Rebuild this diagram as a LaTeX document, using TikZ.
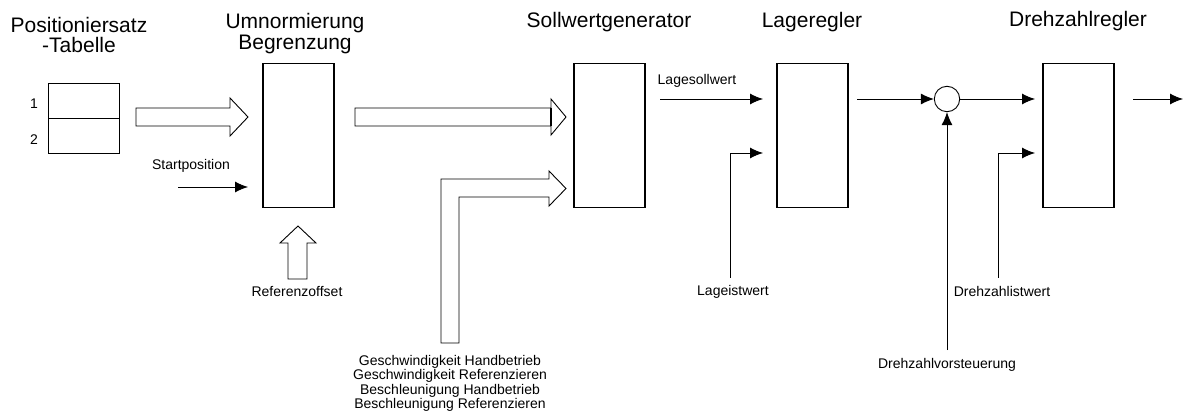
\documentclass[tikz,border=0pt]{standalone}
\usepackage{fontspec}
\setmainfont{Liberation Sans}
\usetikzlibrary{arrows.meta}
\begin{document}
\begin{tikzpicture}[x=1pt,y=-1pt,
  blk/.style={draw, line width=1.5pt, minimum width=71pt, minimum height=144pt, inner sep=0pt, anchor=north west},
  ttl/.style={font=\fontsize{21}{20.5}\selectfont, inner sep=0pt, align=center},
  lbl/.style={font=\fontsize{14}{14.4}\selectfont, inner sep=0pt, align=center},
  sig/.style={line width=0.9pt, -{Latex[length=13pt,width=11pt]}},
  hollow/.style={draw, line width=0.9pt, fill=white, line join=miter}]
\useasboundingbox (0,0) rectangle (1184,414);

% titles
\node[ttl, anchor=north] (t1) at (79,16.7) {Positioniersatz\\-Tabelle};
\node[ttl, anchor=north] (t2) at (295,13.3) {Umnormierung\\Begrenzung};
\node[ttl, anchor=base] (t3) at (609,28) {Sollwertgenerator};
\node[ttl, anchor=base] (t4) at (812,28) {Lageregler};
\node[ttl, anchor=base] (t5) at (1078,26.7) {Drehzahlregler};

% table
\node[draw, line width=1.2pt, minimum width=71pt, minimum height=70pt, inner sep=0pt, anchor=north west] (tab) at (48,83) {};
\draw[line width=1.2pt] (tab.west) -- (tab.east);
\node[lbl, anchor=base] (n1) at (34,108.3) {1};
\node[lbl, anchor=base] (n2) at (34,144.3) {2};

% blocks
\node[blk] (umn) at (262,63) {};
\node[blk] (soll) at (573,63) {};
\node[blk] (lage) at (776,63) {};
\node[blk] (dreh) at (1042,63) {};
\node[circle, draw, line width=0.9pt, minimum size=25.4pt, inner sep=0pt] (sum) at (947,99) {};

% hollow arrows
\draw[hollow] (136,108) -- (230,108) -- (230,98) -- (248,117) -- (230,136) -- (230,126) -- (136,126) -- cycle;
\draw[hollow] (355,108) -- (551,108) -- (551,99) -- (566,117) -- (551,135) -- (551,126) -- (355,126) -- cycle;
\draw[line width=1.3pt] (551,108) -- (551,126);
\draw[hollow] (441,343) -- (441,179) -- (549,179) -- (549,171) -- (566,188.5) -- (549,206) -- (549,197) -- (459,197) -- (459,343) -- cycle;
\draw[hollow] (288,279) -- (288,243) -- (280,243) -- (298,226) -- (316,243) -- (307,243) -- (307,279) -- cycle;

% labels
\node[lbl, anchor=base] (lsp) at (191,170) {Startposition};
\node[lbl, anchor=base] (lro) at (297,296.7) {Referenzoffset};
\node[lbl, anchor=north] (lgb) at (450,355) {Geschwindigkeit Handbetrieb\\Geschwindigkeit Referenzieren\\Beschleunigung Handbetrieb\\Beschleunigung Referenzieren};
\node[lbl, anchor=base] (lls) at (697,84.3) {Lagesollwert};
\node[lbl, anchor=base] (lli) at (733,295.7) {Lageistwert};
\node[lbl, anchor=base] (ldi) at (1002,296) {Drehzahlistwert};
\node[lbl, anchor=base] (ldv) at (947,368) {Drehzahlvorsteuerung};

% signal coordinates
\coordinate (sp) at (178,187);
\coordinate (ls) at (660,99);
\coordinate (li) at (730,278);
\coordinate (liend) at (763,153);
\coordinate (lout) at (857,99);
\coordinate (vs) at (947,350);
\coordinate (di) at (998,278);
\coordinate (diend) at (1035,153);
\coordinate (dout) at (1133,99);
\coordinate (dend) at (1183,99);

% signals
\draw[sig] (sp) -- ([xshift=-14pt]umn.west |- sp);
\draw[sig] (ls) -- ([xshift=-13pt]lage.west |- ls);
\draw[sig] (li) |- (liend);
\draw[sig] (lout) -- (sum);
\draw[sig] (sum) -- ([xshift=-7pt]dreh.west |- sum);
\draw[sig] (vs) -- (sum);
\draw[sig] (di) |- (diend);
\draw[sig] (dout) -- (dend);
\end{tikzpicture}
\end{document}
